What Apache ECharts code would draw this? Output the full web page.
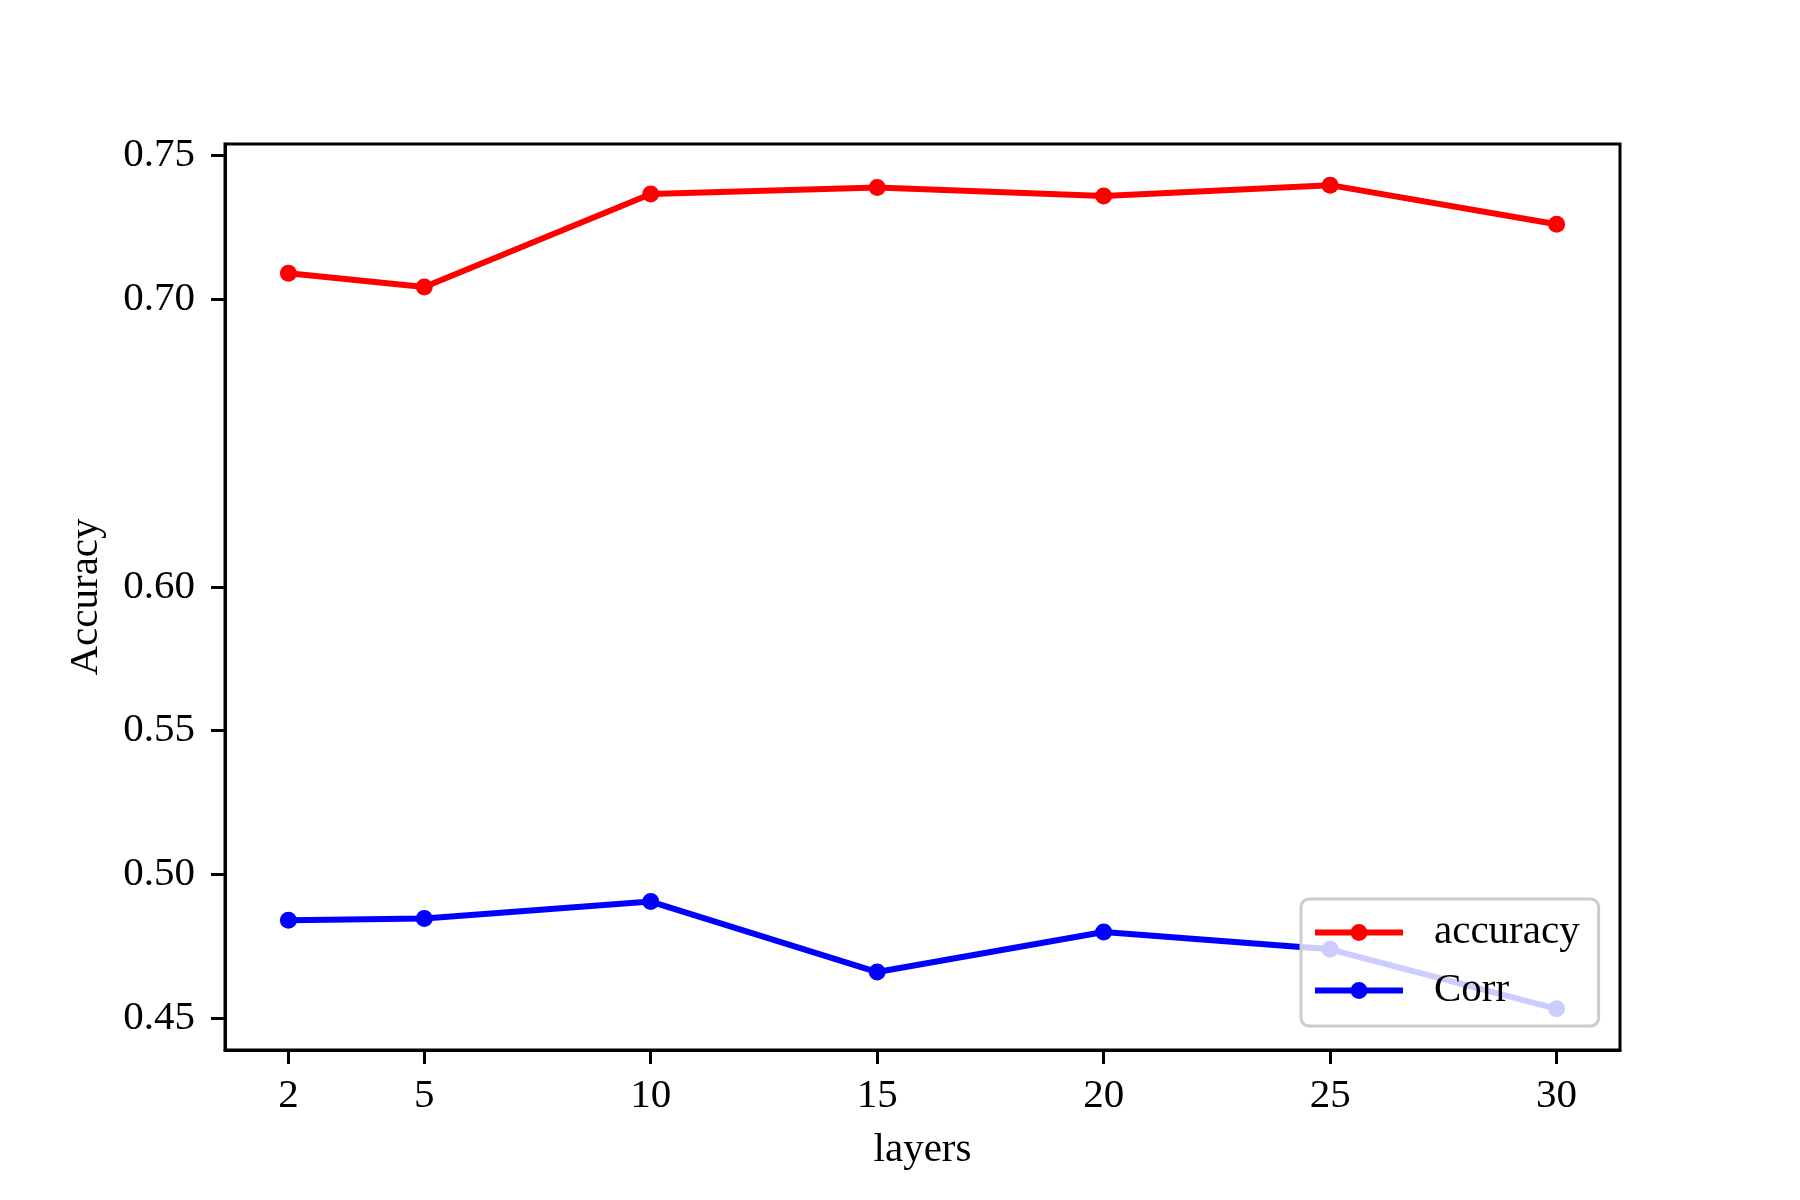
<!DOCTYPE html>
<html>
<head>
<meta charset="utf-8">
<script src="https://cdn.jsdelivr.net/npm/echarts@6/dist/echarts.min.js"></script>
<style>html,body{margin:0;padding:0;background:#fff;}#c{width:1800px;height:1200px;}</style>
</head>
<body>
<div id="c"></div>
<script>
const layers = [2, 5, 10, 15, 20, 25, 30];
const accuracy = [0.7090, 0.7042, 0.7365, 0.7388, 0.7358, 0.7396, 0.7260];
const corr = [0.4841, 0.4847, 0.4906, 0.4661, 0.4800, 0.4740, 0.4533];
const xTicks = [2, 5, 10, 15, 20, 25, 30];
const yTicks = [0.45, 0.50, 0.55, 0.60, 0.70, 0.75];

const FONT = "'Liberation Serif', 'DejaVu Serif', serif";
const chart = echarts.init(document.getElementById('c'), null, {renderer: 'canvas'});
chart.setOption({
  animation: false,
  backgroundColor: '#ffffff',
  textStyle: {fontFamily: FONT},
  grid: {left: 225, right: 180, top: 144, bottom: 150, show: true, borderColor: '#000', borderWidth: 3, backgroundColor: 'transparent'},
  xAxis: {
    type: 'value', min: 0.6, max: 31.4,
    name: 'layers', nameLocation: 'middle', nameGap: 80,
    nameTextStyle: {fontFamily: FONT, fontSize: 41, color: '#000'},
    axisLine: {show: true, onZero: false, lineStyle: {color: '#000', width: 3}},
    axisTick: {show: true, length: 14, lineStyle: {color: '#000', width: 3}, customValues: xTicks},
    axisLabel: {fontFamily: FONT, fontSize: 41, color: '#000', margin: 26, customValues: xTicks},
    splitLine: {show: false}
  },
  yAxis: {
    type: 'value', min: 0.439, max: 0.7539,
    name: 'Accuracy', nameLocation: 'middle', nameGap: 118, nameRotate: 90,
    nameTextStyle: {fontFamily: FONT, fontSize: 41, color: '#000'},
    axisLine: {show: true, onZero: false, lineStyle: {color: '#000', width: 3}},
    axisTick: {show: true, length: 14, lineStyle: {color: '#000', width: 3}, customValues: yTicks},
    axisLabel: {fontFamily: FONT, fontSize: 41, color: '#000', margin: 30, customValues: yTicks,
      formatter: v => v.toFixed(2)},
    splitLine: {show: false}
  },
  legend: {
    orient: 'vertical', left: 1301, top: 899,
    padding: [13, 19, 15, 11],
    itemWidth: 88, itemHeight: 21, itemGap: 17,
    backgroundColor: 'rgba(255,255,255,0.8)',
    borderColor: '#cccccc', borderWidth: 3, borderRadius: 8,
    lineStyle: {width: 6},
    textStyle: {fontFamily: FONT, fontSize: 41, color: '#000', lineHeight: 41, padding: [0, 0, 0, 26]},
    data: ['accuracy', 'Corr']
  },
  series: [
    {
      name: 'accuracy', type: 'line',
      data: layers.map((x, i) => [x, accuracy[i]]),
      symbol: 'circle', symbolSize: 17,
      lineStyle: {color: '#ff0000', width: 6},
      itemStyle: {color: '#ff0000'}
    },
    {
      name: 'Corr', type: 'line',
      data: layers.map((x, i) => [x, corr[i]]),
      symbol: 'circle', symbolSize: 17,
      lineStyle: {color: '#0000ff', width: 6},
      itemStyle: {color: '#0000ff'}
    }
  ]
});
</script>
</body>
</html>
